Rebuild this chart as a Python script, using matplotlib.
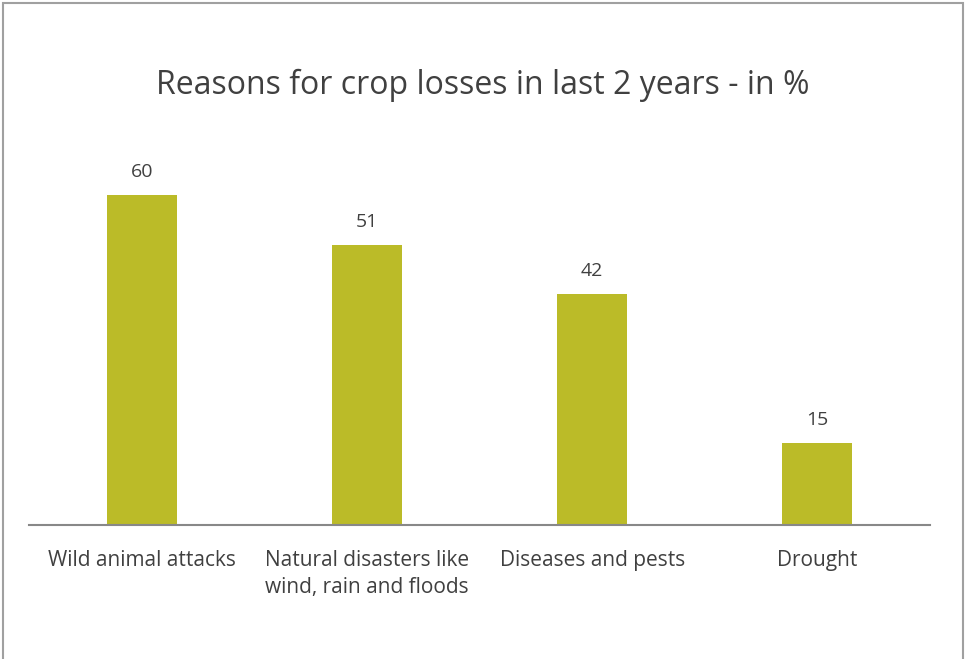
import matplotlib
matplotlib.use("Agg")
import matplotlib.pyplot as plt
from matplotlib.patches import Rectangle

categories = ["Wild animal attacks", "Natural disasters like\nwind, rain and floods", "Diseases and pests", "Drought"]
values = [60, 51, 42, 15]

plt.rcParams['font.family'] = ['Open Sans', 'DejaVu Sans']
text_color = "#404040"

fig = plt.figure(figsize=(9.66, 6.59), dpi=100)
ax = fig.add_axes([29/966, 1-525/659, 901/966, 385/659])
x = range(len(categories))
ax.bar(x, values, width=0.31, color="#BBBB28", zorder=2)
for xi, v in zip(x, values):
    ax.text(xi, v + 2.5, str(v), ha="center", va="bottom", fontsize=14, color=text_color)
ax.set_xlim(-0.5, len(categories) - 0.5)
ax.set_ylim(0, 70)
ax.set_xticks(list(x))
ax.set_xticklabels(categories, fontsize=15, color=text_color, linespacing=1.4)
ax.tick_params(axis="x", length=0, pad=18)
ax.set_yticks([])
for s in ["top", "right", "left"]:
    ax.spines[s].set_visible(False)
ax.spines["bottom"].set_color("#888888")
ax.spines["bottom"].set_linewidth(1.5)

fig.text(0.5, 1 - 85/659, "Reasons for crop losses in last 2 years - in %", ha="center", va="center",
         fontsize=23, color=text_color)

fig.patches.append(Rectangle((3/966, -0.01), 960/966, 1 - 3/659 + 0.01, transform=fig.transFigure,
                             fill=False, edgecolor="#A0A0A0", linewidth=1.5))
fig.savefig("out.png", dpi=100)
